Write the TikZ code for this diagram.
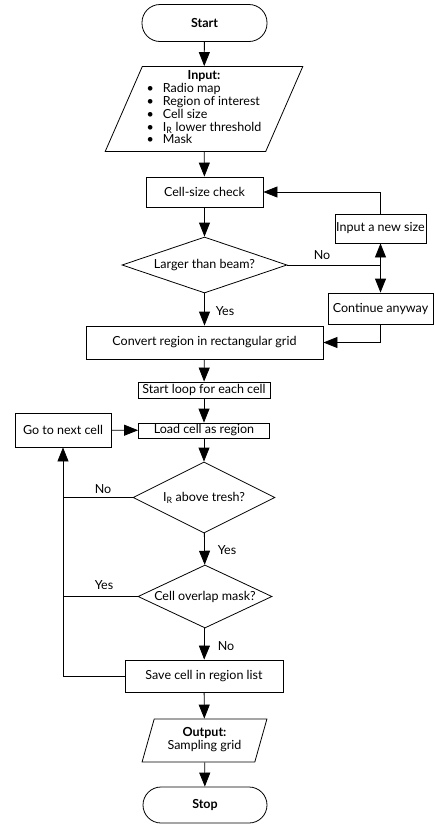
\documentclass[tikz,border=0pt]{standalone}
\usepackage{fontspec}
\setmainfont{Lato}
\usetikzlibrary{shapes.geometric,arrows.meta}

\begin{document}
\begin{tikzpicture}
[
    x=1pt, y=-1pt,
    every node/.style={font=\fontsize{12.5}{12.5}\selectfont},
    link/.style={draw, line width=0.8pt},
    arrow/.style={link, -{Triangle[length=14pt,width=11pt]}},
    terminal/.style={draw, line width=0.8pt, rectangle, rounded corners=18pt, minimum width=125pt, minimum height=37pt},
    process/.style={draw, line width=0.8pt, rectangle, inner sep=0pt},
    decision/.style={draw, line width=0.8pt, diamond, inner sep=0pt},
    io/.style={draw, line width=0.8pt, trapezium, trapezium stretches=true, inner sep=0pt},
    answer/.style={inner sep=0pt},
]
\useasboundingbox (0,0) rectangle (434,825);

\node[terminal] (start) at (204.5,23) {\bfseries Start};
\node[io, trapezium left angle=66, trapezium right angle=114, minimum width=198pt, minimum height=85pt] (input) at (204,109)
    {\begin{tabular}{@{}c@{\hspace{9pt}}l@{}}
    \multicolumn{2}{c}{\bfseries Input:}\\
    \textbullet & Radio map\\
    \textbullet & Region of interest\\
    \textbullet & Cell size\\
    \textbullet & I\textsubscript{R} lower threshold\\
    \textbullet & Mask
    \end{tabular}};
\node[process, minimum width=117pt, minimum height=30pt] (check) at (204.5,192) {Cell-size check};
\node[decision, aspect=2.95, minimum width=165pt, minimum height=56pt] (beam) at (204.5,265) {Larger than beam?};
\node[process, minimum width=91pt, minimum height=29pt] (newsize) at (380.5,228.5) {Input a new size};
\node[process, minimum width=105pt, minimum height=31pt] (cont) at (380.5,308.5) {Continue anyway};
\coordinate (split) at (380.5,265);
\node[process, minimum width=237pt, minimum height=33pt] (convert) at (204.5,342.5) {Convert region in rectangular grid};
\node[process, minimum width=132pt, minimum height=16pt] (loop) at (204,390) {Start loop for each cell};
\node[process, minimum width=131pt, minimum height=15pt] (load) at (204,430.5) {Load cell as region};
\node[process, minimum width=96pt, minimum height=34pt] (next) at (63,430) {Go to next cell};
\node[decision, aspect=2, minimum width=142pt, minimum height=71pt] (tresh) at (204,497.5) {I\textsubscript{R} above tresh?};
\node[decision, aspect=2.13, minimum width=134pt, minimum height=63pt] (overlap) at (205,596.5) {Cell overlap mask?};
\node[process, minimum width=158pt, minimum height=32pt] (save) at (204,676) {Save cell in region list};
\node[io, trapezium left angle=71, trapezium right angle=109, minimum width=125pt, minimum height=43pt] (output) at (204.5,740.5)
    {\begin{tabular}{@{}c@{}}\bfseries Output:\\ Sampling grid\end{tabular}};
\node[terminal, minimum width=124pt, minimum height=36pt] (stop) at (205,805) {\bfseries Stop};

\node[answer] (beamno) at (322,255) {No};
\node[answer] (beamyes) at (225,311) {Yes};
\node[answer] (treshno) at (103,489) {No};
\node[answer] (treshyes) at (227,550) {Yes};
\node[answer] (overlapyes) at (104,585) {Yes};
\node[answer] (overlapno) at (226,646) {No};

\draw[arrow] (start) -- (input);
\draw[arrow] (input) -- (check);
\draw[arrow] (check) -- (beam);
\draw[link] (beam.east) -- (split);
\draw[arrow] (split) -- (newsize);
\draw[arrow] (split) -- (cont);
\draw[arrow] (newsize.north) |- (check.east);
\draw[arrow] (cont.south) |- (convert.east);
\draw[arrow] (beam.south) -- (convert.north);
\draw[arrow] (convert) -- (loop);
\draw[arrow] (loop) -- (load);
\draw[arrow] (next) -- (load);
\draw[arrow] (load) -- (tresh);
\draw[link] (tresh.west) -- (tresh.west -| next.south);
\draw[arrow] (tresh) -- (overlap);
\draw[link] (overlap.west) -- (overlap.west -| next.south);
\draw[arrow] (overlap) -- (save);
\draw[arrow] (save.west) -| (next.south);
\draw[arrow] (save) -- (output);
\draw[arrow] (output) -- (stop);
\end{tikzpicture}
\end{document}
